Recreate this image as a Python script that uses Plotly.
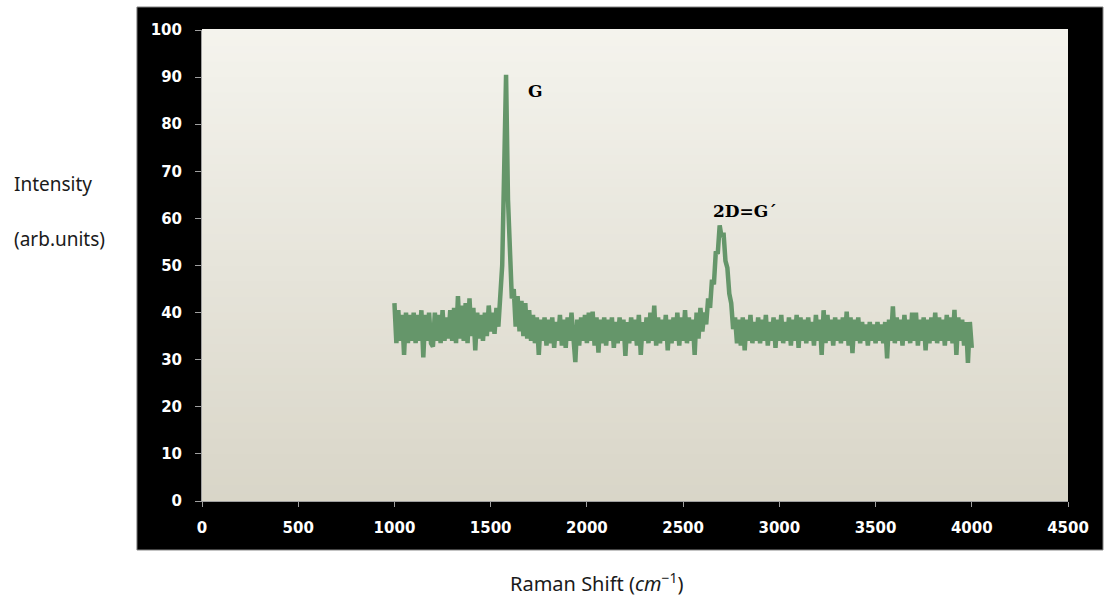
import plotly.graph_objects as go

x_start = 1000
x_step = 10
intensity = [
    42, 33.5, 40.5, 34, 39.5, 31, 40, 33.5, 39.5, 34,          # 1000-1090
    40, 33.5, 39.5, 34, 40.5, 30.5, 39.5, 34, 40, 33.5,        # 1100-1190
    32.8, 40, 34, 39.5, 33.5, 40.5, 34, 39, 34.5, 40.5,        # 1200-1290
    34, 41, 33.5, 43.5, 34.5, 41.5, 34, 42, 33.5, 43,          # 1300-1390
    35, 41, 32, 40, 34.5, 39.5, 34, 40, 35, 41.5,              # 1400-1490
    36, 40, 35.5, 41, 37, 44, 50, 70, 90.5, 64,                # 1500-1590
    50, 43, 45, 37, 43.5, 36, 42.5, 35, 42, 34.5,              # 1600-1690
    40.5, 34, 39.5, 33.5, 39, 31, 38.5, 34, 39, 33,            # 1700-1790
    38.5, 33.5, 39, 32.5, 38, 34, 39.5, 33, 38.5, 32.5,        # 1800-1890
    39, 34, 40, 33.5, 29.5, 38.5, 33, 39, 34, 39.5,            # 1900-1990
    33.5, 40, 34, 40.2, 33, 39, 31.5, 38.5, 33.5, 39,          # 2000-2090
    33, 38.5, 34, 39, 32.5, 38, 33.5, 39, 34, 38.5,            # 2100-2190
    30.8, 38, 33.5, 39, 34, 38.5, 33, 39.5, 31, 38,            # 2200-2290
    34, 39, 33.5, 40, 34, 41.5, 33, 39, 33.5, 38.5,            # 2300-2390
    34, 39.5, 32, 38.5, 33.5, 39, 34, 40, 33, 39,              # 2400-2490
    34, 40.5, 33.5, 39, 34, 38.5, 31, 40, 34.5, 41,            # 2500-2590
    36, 40, 37.5, 43, 41, 47, 46, 53, 52.5, 58.5,              # 2600-2690
    56, 57, 51, 49.5, 44, 42, 36.5, 39, 33.5, 38.5,            # 2700-2790
    33, 39, 32, 38.5, 34, 39.5, 33.5, 38, 34, 39,              # 2800-2890
    33.5, 38.5, 34, 39.5, 33, 38, 34, 39, 32.5, 38.5,          # 2900-2990
    34, 39.5, 33.5, 38, 34, 39, 33, 38.5, 34, 39.5,            # 3000-3090
    32.5, 39, 34, 38.5, 33.5, 39, 34, 38, 33, 39.5,            # 3100-3190
    34, 38.5, 31, 40.5, 33.5, 39.5, 34, 38.5, 33, 39,          # 3200-3290
    34, 38.5, 33.5, 39, 34, 40.2, 33, 39, 31.4, 38.5,          # 3300-3390
    34, 39, 33.5, 38, 34, 37.5, 33, 38, 34, 37.5,              # 3400-3490
    33.5, 38, 34, 37.5, 33.5, 38, 30.3, 38.5, 34, 41.3,        # 3500-3590
    33.5, 39, 34, 38.5, 33, 39.5, 34, 38.5, 33.5, 40,          # 3600-3690
    34, 40, 33, 38.5, 34, 39, 32, 38.5, 33.5, 39,              # 3700-3790
    34, 40, 33.5, 39, 34, 38.5, 33, 39.5, 34, 39,              # 3800-3890
    33.5, 40.6, 31, 39, 34, 38.5, 33, 38, 29.3, 38,            # 3900-3990
    32.5,                                                      # 4000
]
raman_shift = [x_start + i * x_step for i in range(len(intensity))]

peak_labels = ["G", "2D=G\u00b4"]
peak_label_x = [1731, 2822]
peak_label_y = [87, 61.6]

x_ticks = [0, 500, 1000, 1500, 2000, 2500, 3000, 3500, 4000, 4500]
y_ticks = [0, 10, 20, 30, 40, 50, 60, 70, 80, 90, 100]

fig = go.Figure()
fig.add_trace(go.Scatter(
    x=raman_shift, y=intensity, mode="lines",
    line=dict(color="#65966a", width=4.5),
    hoverinfo="skip", showlegend=False,
))

shapes = []
# black frame behind the plot
shapes.append(dict(type="rect", xref="paper", yref="paper",
                   x0=-0.0751, x1=1.0404, y0=-0.104, y1=1.0488,
                   fillcolor="black", line=dict(color="#808080", width=1),
                   layer="below"))
# vertical gradient for the plot background
n = 60
top = (244, 243, 237)
bot = (217, 214, 200)
for i in range(n):
    t = i / (n - 1)
    c = tuple(round(bot[k] + (top[k] - bot[k]) * t) for k in range(3))
    shapes.append(dict(type="rect", xref="paper", yref="paper",
                       x0=0, x1=1, y0=i / n, y1=(i + 1) / n + 0.002,
                       fillcolor="rgb(%d,%d,%d)" % c, line=dict(width=0),
                       layer="below"))

annotations = []
for t, ax_, ay_ in zip(peak_labels, peak_label_x, peak_label_y):
    annotations.append(dict(x=ax_, y=ay_, xref="x", yref="y", text=t,
                            showarrow=False,
                            font=dict(family="DejaVu Serif", size=17, color="black",
                                      weight="bold")))
title_font = dict(family="Noto Sans", size=19, color="#1a1a1a")
annotations.append(dict(x=-0.2194, y=0.673, xref="paper", yref="paper",
                        text="Intensity", showarrow=False, xanchor="left",
                        yanchor="middle", font=title_font))
annotations.append(dict(x=-0.2194, y=0.556, xref="paper", yref="paper",
                        text="(arb.units)", showarrow=False, xanchor="left",
                        yanchor="middle", font=title_font))
annotations.append(dict(x=0.456, y=-0.174, xref="paper", yref="paper",
                        text="Raman Shift (<i>cm</i><sup>\u22121</sup>)",
                        showarrow=False, xanchor="center", yanchor="middle",
                        font=dict(family="Noto Sans", size=20, color="#1a1a1a")))

tick_font = dict(family="DejaVu Sans", size=15, color="white", weight="bold")

fig.update_layout(
    width=1115, height=599,
    margin=dict(l=202, r=47, t=30, b=98),
    paper_bgcolor="white",
    plot_bgcolor="rgba(0,0,0,0)",
    shapes=shapes,
    annotations=annotations,
    showlegend=False,
    xaxis=dict(range=[0, 4500], tickvals=x_ticks, ticktext=[str(v) for v in x_ticks],
               showgrid=False, zeroline=False, showline=True, linecolor="#a0a0a0",
               linewidth=1, ticks="outside", ticklen=5, tickcolor="#a0a0a0",
               tickfont=tick_font, ticklabelstandoff=8, fixedrange=True),
    yaxis=dict(range=[0, 100], tickvals=y_ticks, ticktext=[str(v) for v in y_ticks],
               showgrid=False, zeroline=False, showline=True, linecolor="#a0a0a0",
               linewidth=1, ticks="outside", ticklen=6, tickcolor="#a0a0a0",
               tickfont=tick_font, ticklabelstandoff=10, fixedrange=True),
)

fig.write_html("out.html", config={"displayModeBar": False},
               post_script="document.body.style.margin='0px';document.body.style.overflow='hidden';")
